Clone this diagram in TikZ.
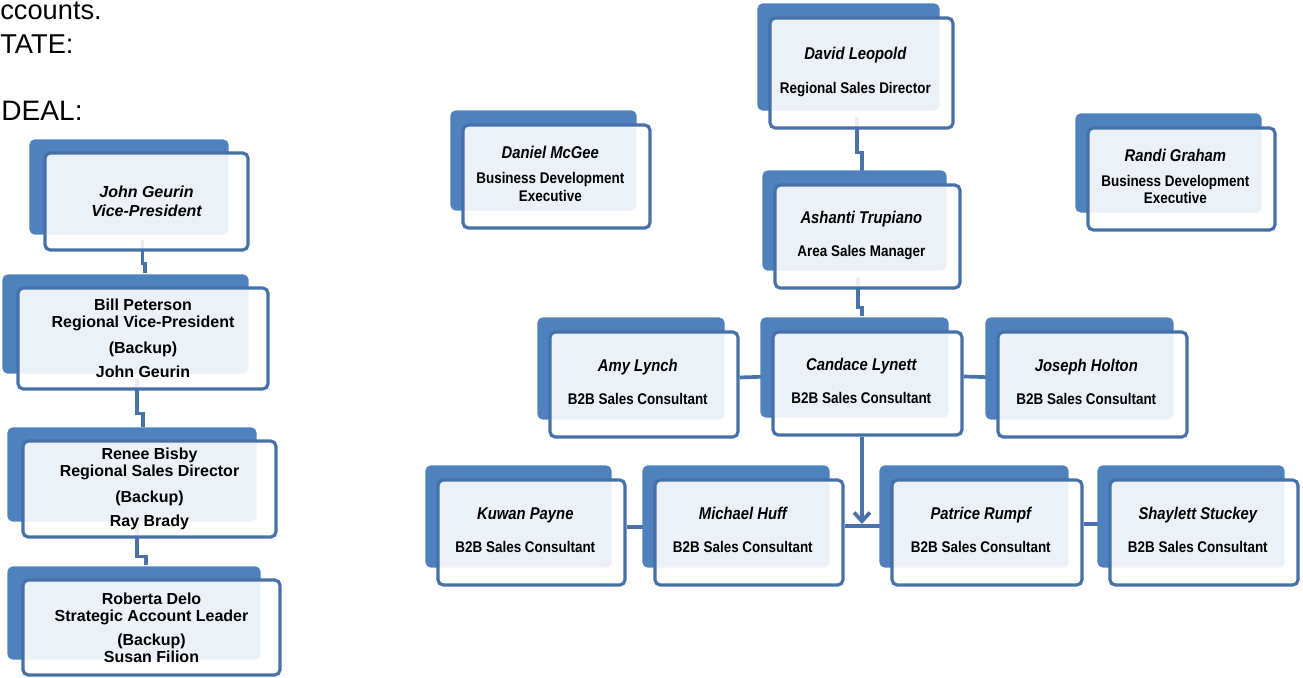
\documentclass[tikz,border=0pt]{standalone}
\usepackage{fontspec}
\setmainfont{Liberation Sans}
\newfontfamily\narrowsans[FakeStretch=0.87]{Liberation Sans}
\usetikzlibrary{calc}
\usetikzlibrary{backgrounds}
\usetikzlibrary{arrows.meta}

\definecolor{cardblue}{RGB}{79,129,189}
\definecolor{edgeblue}{RGB}{70,112,168}
\definecolor{linkblue}{RGB}{74,114,170}

% name in italics, then the job title; text sits a bit left of the card centre
\newcommand{\rtext}[3][9pt]{\begin{tabular}{@{}c@{}}{\fontsize{9.7}{10}\selectfont\itshape #2}\\[#1]#3\end{tabular}\kern7pt}

\tikzset{
  card/.style={draw=edgeblue, line width=1.8pt, rounded corners=3pt, fill=white,
    fill opacity=0.89, text opacity=1, inner sep=0pt},
  box size/.style 2 args={minimum width=#1*0.02cm, minimum height=#2*0.02cm},
  lcard/.style={card, align=center, font=\bfseries\fontsize{9.1}{9.7}\selectfont},
  rcard/.style={card, font=\narrowsans\bfseries\fontsize{8.8}{10}\selectfont},
  link/.style={draw=linkblue, line width=2.1pt},
}

\begin{document}
\begin{tikzpicture}[x=0.02cm, y=-0.02cm]
  \useasboundingbox (0,0) rectangle (1303,677);

  % cut text at the top left
  \node [anchor=base west, inner sep=0pt, font=\fontsize{15.5}{18}\selectfont] (accts) at (0,19) {ccounts.};
  \node [anchor=base west, inner sep=0pt, font=\fontsize{15.5}{18}\selectfont] (state) at (0,53) {TATE:};
  \node [anchor=base west, inner sep=0pt, font=\fontsize{16}{18}\selectfont] (deal) at (1,120) {DEAL:};

  % left column
  \node [lcard, box size={203}{97}] (geurin) at (146.5,201.5) {\itshape John Geurin\\[1pt]\itshape Vice-President};
  \node [lcard, box size={250}{101}] (peterson) at (143,338.5) {Bill Peterson\\Regional Vice-President\\[5pt](Backup)\\[4pt]John Geurin};
  \node [lcard, box size={253}{96}] (bisby) at (149.5,489) {Renee Bisby\\Regional Sales Director\\[5pt](Backup)\\[4pt]Ray Brady};
  \node [lcard, box size={257}{95}] (delo) at (151.5,627.5) {Roberta Delo\\Strategic Account Leader\\[4pt](Backup)\\Susan Filion};

  % right chart
  \node [rcard, box size={183}{110}] (leopold) at (861.5,73) {\rtext{David Leopold}{Regional Sales Director}};
  \node [rcard, box size={185}{103}] (trupiano) at (867.5,236.5) {\rtext{Ashanti Trupiano}{Area Sales Manager}};
  \node [rcard, box size={187}{103}] (mcgee) at (556.5,176.5) {\rtext[4pt]{Daniel McGee}{Business Development\\Executive}};
  \node [rcard, box size={187}{102}] (graham) at (1181.5,179) {\rtext[4pt]{Randi Graham}{Business Development\\Executive}};

  \node [rcard, box size={188}{105}] (lynch) at (644,384.5) {\rtext{Amy Lynch}{B2B Sales Consultant}};
  \node [rcard, box size={189}{103}] (lynett) at (867.5,383.5) {\rtext{Candace Lynett}{B2B Sales Consultant}};
  \node [rcard, box size={189}{105}] (holton) at (1092.5,384.5) {\rtext{Joseph Holton}{B2B Sales Consultant}};

  \node [rcard, box size={187}{105}] (payne) at (531.5,532.5) {\rtext{Kuwan Payne}{B2B Sales Consultant}};
  \node [rcard, box size={188}{105}] (huff) at (749,532.5) {\rtext{Michael Huff}{B2B Sales Consultant}};
  \node [rcard, box size={190}{105}] (rumpf) at (987,532.5) {\rtext{Patrice Rumpf}{B2B Sales Consultant}};
  \node [rcard, box size={188}{105}] (stuckey) at (1204,532.5) {\rtext{Shaylett Stuckey}{B2B Sales Consultant}};

  \coordinate (join) at (862,526);

  \begin{scope}[on background layer]
    % connectors, they show faintly through the cards
    \draw [link] ($(geurin.south)+(-4,-12)$) -- ++(0,24) -| ($(peterson.north)+(2,-13)$);
    \draw [link] ($(peterson.south)+(-6,-13)$) -- ++(0,36) -| ($(bisby.north)+(-6.5,-12)$);
    \draw [link] ($(bisby.south)+(-12.5,-15)$) -- ++(0,33) -| ($(delo.north)+(-5.5,-13)$);

    \draw [link] ($(leopold.south)+(-4.5,-13)$) -- ++(0,36) -| ($(trupiano.north)+(-5.5,-12)$);
    \draw [link] ($(trupiano.south)+(-9.5,-13)$) -- ++(0,31) -| ($(lynett.north)+(-5.5,-14)$);

    \draw [link] ([yshift=4pt]lynch.east) -- ([yshift=4pt]lynett.west);
    \draw [link] ([yshift=4pt]lynett.east) -- ([yshift=4pt]holton.west);
    \draw [link] ([yshift=3pt]payne.east) -- ([yshift=3pt]huff.west);
    \draw [link] ([yshift=5pt]rumpf.east) -- ([yshift=5pt]stuckey.west);
    \draw [link] (join -| huff.east) -- (join -| rumpf.west);
    \draw [link, -{Straight Barb[length=5pt,width=9pt]}] ($(lynett.south)+(-5.5,0)$) -- ($(join)+(0,-2)$);

    % blue backs
    \foreach \n in {geurin, peterson, bisby, delo}
      \fill [cardblue, rounded corners=3pt] ($(\n.north west)+(-14,-12)$) rectangle ($(\n.south east)+(-21,-17)$);
    \foreach \n in {leopold, trupiano, mcgee, graham, lynch, lynett, holton, payne, huff, rumpf, stuckey}
      \fill [cardblue, rounded corners=3pt] ($(\n.north west)+(-11,-13)$) rectangle ($(\n.south east)+(-15,-19)$);
  \end{scope}

\end{tikzpicture}
\end{document}
